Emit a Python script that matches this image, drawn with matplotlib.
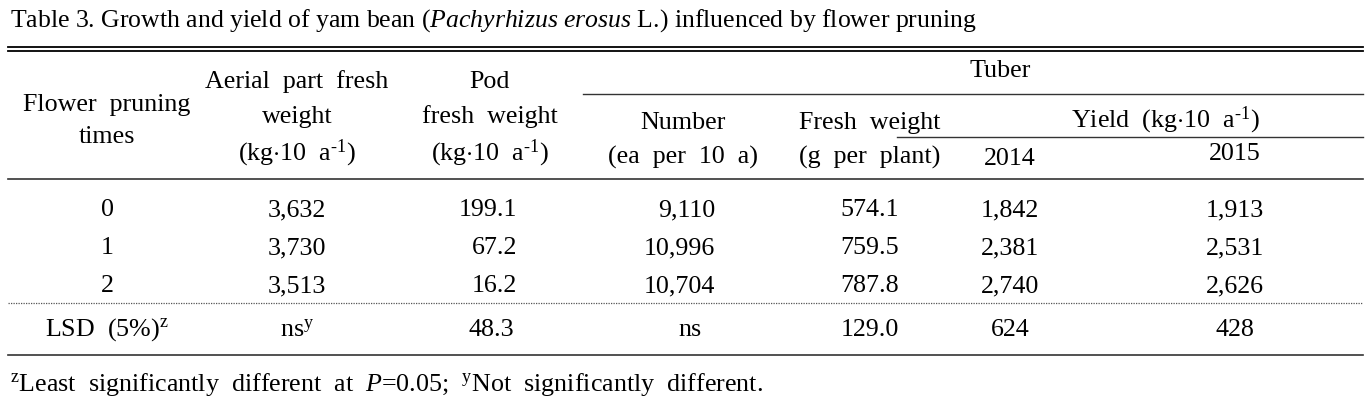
import matplotlib
matplotlib.use("Agg")
import matplotlib.pyplot as plt

plt.rcParams['font.family'] = ['Liberation Serif', 'DejaVu Serif']
plt.rcParams['mathtext.fontset'] = 'custom'
plt.rcParams['mathtext.rm'] = 'Liberation Serif'
plt.rcParams['mathtext.it'] = 'Liberation Serif:italic'

# table data
treatments = ["0", "1", "2"]
aerial_fw = [3632, 3730, 3513]
pod_fw = [199.1, 67.2, 16.2]
tuber_number = [9110, 10996, 10704]
tuber_fw = [574.1, 759.5, 787.8]
yield_2014 = [1842, 2381, 2740]
yield_2015 = [1913, 2531, 2626]
lsd_row = ["ns$^{\\mathregular{y}}$", "48.3", "ns", "129.0", "624", "428"]

unit = "(kg$\\cdot$10  a$^{\\mathregular{\u20101}}$)"

W, H = 1371, 402
fig = plt.figure(figsize=(W / 100, H / 100), dpi=100)
ax = fig.add_axes([0, 0, 1, 1])
ax.set_xlim(0, W)
ax.set_ylim(H, 0)
ax.axis('off')

FS = 18.7
TFS = 18.5

def txt(x, y, s, ha='center', size=FS, va='center'):
    ax.text(x, y, s, ha=ha, va=va, fontsize=size, color='black')

# title
txt(10, 21, "Table 3. Growth and yield of yam bean ($\\mathit{Pachyrhizus\\ erosus}$ L.) "
    "influenced by flower pruning", ha='left', size=TFS)

# rules
ax.plot([8, 1363], [48, 48], color='black', lw=1.3)
ax.plot([8, 1363], [52, 52], color='black', lw=1.3)
ax.plot([583, 1363], [95, 95], color='#333333', lw=1.0)
ax.plot([897, 1363], [138, 138], color='#333333', lw=1.0)
ax.plot([8, 1363], [180, 180], color='#333333', lw=1.2)
ax.plot([8, 1363], [304, 304], color='#555555', lw=0.9, ls=(0, (1, 1)))
ax.plot([8, 1363], [356, 356], color='#333333', lw=1.2)

# header
cx = [107, 297, 490, 683, 870, 1010, 1235]
txt(cx[0], 105, "Flower  pruning")
txt(cx[0], 137, "times")
txt(cx[1], 82, "Aerial  part  fresh")
txt(cx[1], 117, "weight")
txt(cx[1], 153, unit)
txt(cx[2], 82, "Pod")
txt(cx[2], 117, "fresh  weight")
txt(cx[2], 153, unit)
txt(1000, 71, "Tuber")
txt(cx[3], 123, "Number")
txt(cx[3], 157, "(ea  per  10  a)")
txt(cx[4], 123, "Fresh  weight")
txt(cx[4], 157, "(g  per  plant)")
txt(1165, 120, "Yield  " + unit)
txt(cx[5], 159, "2014")
txt(cx[6], 154, "2015")

# body (baseline aligned so commas do not shift rows)
row_base = [216, 254, 292]
for i, t in enumerate(treatments):
    y = row_base[i]
    txt(cx[0], y, t, va='baseline')
    txt(cx[1], y, f"{aerial_fw[i]:,}", va='baseline')
    txt(517, y, f"{pod_fw[i]:.1f}", ha='right', va='baseline')
    txt(715, y, f"{tuber_number[i]:,}", ha='right', va='baseline')
    txt(cx[4], y, f"{tuber_fw[i]:.1f}", va='baseline')
    txt(cx[5], y, f"{yield_2014[i]:,}", va='baseline')
    txt(cx[6], y, f"{yield_2015[i]:,}", va='baseline')

lsd_base = 336
txt(cx[0], lsd_base, "LSD  (5%)$^{\\mathregular{z}}$", va='baseline')
lsd_x = [cx[1], 491, 690, cx[4], cx[5], cx[6]]
for x, s in zip(lsd_x, lsd_row):
    txt(x, lsd_base, s, va='baseline')

# footnote
txt(10, 391, "${}^{\\mathregular{z}}$Least  significantly  different  at  $P$=0.05;  "
    "${}^{\\mathregular{y}}$Not  significantly  different.", ha='left', va='baseline')

fig.savefig("out.png", dpi=100)
